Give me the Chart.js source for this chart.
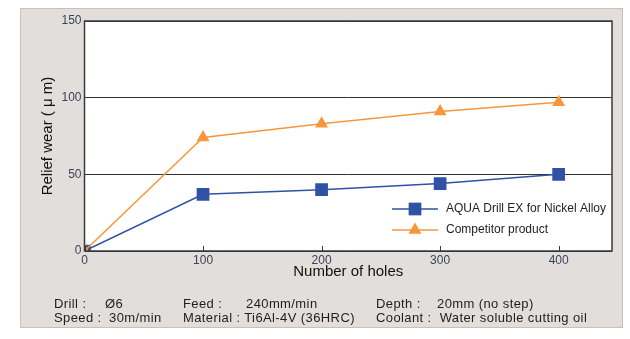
<!DOCTYPE html>
<html>
<head>
<meta charset="utf-8">
<script src="https://cdn.jsdelivr.net/npm/chart.js@4/dist/chart.umd.min.js"></script>
<style>
  body { margin: 0; background: #fff; font-family: "Liberation Sans", Arial, sans-serif; }
  #panel { position: absolute; left: 20px; top: 8px; width: 601px; height: 318px;
           background: #e2dedb; border: 1px solid #c6c1bd; }
  #wrap { position: absolute; left: 0; top: 0; width: 630px; height: 339px; }
  .info { position: absolute; font-size: 13px; letter-spacing: 0.4px; color: #1e1e1e; white-space: pre; }
</style>
</head>
<body>
<div id="panel"></div>
<div id="wrap"><canvas id="wearChart"></canvas></div>
<div class="info" style="left:54px;top:296px">Drill :</div>
<div class="info" style="left:105px;top:296px">Ø6</div>
<div class="info" style="left:183px;top:296px">Feed :</div>
<div class="info" style="left:246px;top:296px">240mm/min</div>
<div class="info" style="left:376px;top:296px">Depth :</div>
<div class="info" style="left:437px;top:296px">20mm (no step)</div>
<div class="info" style="left:54px;top:310px">Speed :</div>
<div class="info" style="left:109px;top:310px">30m/min</div>
<div class="info" style="left:183px;top:310px">Material : Ti6Al-4V (36HRC)</div>
<div class="info" style="left:376px;top:310px">Coolant :  Water soluble cutting oil</div>
<script>
// relief wear vs. number of holes
const holes = [0, 100, 200, 300, 400];
const aquaWear = [0, 37, 40, 44, 50];
const competitorWear = [0, 74, 83, 91, 97];
const seriesNames = ['AQUA Drill EX for Nickel Alloy', 'Competitor product'];
const xTicks = [0, 100, 200, 300, 400];
const yTicks = [0, 50, 100, 150];

const BLUE = '#2f52a5';
const ORANGE = '#f7973c';
const FONT = '"Liberation Sans", Arial, sans-serif';

const toPoints = vals => holes.map((h, i) => ({ x: h, y: vals[i] }));

// white plot background, frame, inward x ticks and the boxed-in legend
const framePlugin = {
  id: 'frame',
  beforeDraw(chart) {
    const a = chart.chartArea, ctx = chart.ctx;
    ctx.save();
    ctx.fillStyle = '#fff';
    ctx.fillRect(a.left, a.top, a.right - a.left, a.bottom - a.top);
    ctx.restore();
  },
  afterDatasetsDraw(chart) {
    const a = chart.chartArea, ctx = chart.ctx;
    const xs = chart.scales.x;
    ctx.save();
    ctx.strokeStyle = '#3a3a3a';
    ctx.lineWidth = 1.5;
    ctx.strokeRect(a.left, a.top, a.right - a.left, a.bottom - a.top);
    ctx.lineWidth = 1;
    xTicks.forEach(v => {
      const px = Math.round(xs.getPixelForValue(v)) + 0.5;
      ctx.beginPath();
      ctx.moveTo(px, a.bottom);
      ctx.lineTo(px, a.bottom - 5);
      ctx.stroke();
    });

    // legend
    chart.data.datasets.forEach((ds, i) => {
      const y = a.bottom - 42 + i * 21;
      const x1 = a.right - 220, x2 = a.right - 174;
      ctx.strokeStyle = ds.borderColor;
      ctx.lineWidth = 1.5;
      ctx.beginPath();
      ctx.moveTo(x1, y);
      ctx.lineTo(x2, y);
      ctx.stroke();
      ctx.fillStyle = ds.pointBackgroundColor;
      Chart.helpers.drawPoint(ctx, { pointStyle: ds.pointStyle, radius: ds.pointRadius, borderWidth: 0, rotation: 0 }, (x1 + x2) / 2, y);
      ctx.fillStyle = '#1e1e1e';
      ctx.font = '12px ' + FONT;
      ctx.textBaseline = 'middle';
      ctx.fillText(ds.label, a.right - 166, y);
    });
    ctx.restore();
  }
};

new Chart(document.getElementById('wearChart'), {
  type: 'line',
  data: {
    datasets: [
      {
        label: seriesNames[0],
        data: toPoints(aquaWear),
        borderColor: BLUE,
        backgroundColor: BLUE,
        pointBackgroundColor: BLUE,
        pointBorderWidth: 0,
        borderWidth: 1.5,
        pointStyle: 'rect',
        pointRadius: 9,
        order: 1
      },
      {
        label: seriesNames[1],
        data: toPoints(competitorWear),
        borderColor: ORANGE,
        backgroundColor: ORANGE,
        pointBackgroundColor: ORANGE,
        pointBorderWidth: 0,
        borderWidth: 1.5,
        pointStyle: 'triangle',
        pointRadius: 7.5,
        order: 0
      }
    ]
  },
  options: {
    responsive: true,
    maintainAspectRatio: false,
    animation: false,
    layout: { padding: { top: 21, right: 18, left: 39, bottom: 58 } },
    plugins: { legend: { display: false }, tooltip: { enabled: false } },
    scales: {
      x: {
        type: 'linear',
        min: 0,
        max: 445,
        afterBuildTicks: s => { s.ticks = xTicks.map(v => ({ value: v })); },
        afterFit: s => { s.height = 30; },
        grid: { display: false, drawTicks: false },
        border: { display: false },
        ticks: { color: '#3b4457', font: { family: FONT, size: 12 }, padding: 2 },
        title: { display: true, text: 'Number of holes', color: '#111', padding: 0,
                 font: { family: FONT, size: 15 } }
      },
      y: {
        min: 0,
        max: 150,
        afterBuildTicks: s => { s.ticks = yTicks.map(v => ({ value: v })); },
        afterFit: s => { s.width = 45.5; },
        grid: { color: '#333', lineWidth: 1, drawTicks: false },
        border: { display: false },
        ticks: { color: '#3b4457', font: { family: FONT, size: 12 }, padding: 3 },
        title: { display: true, text: 'Relief wear ( μ m)', color: '#111', padding: 0,
                 font: { family: FONT, size: 15 } }
      }
    }
  },
  plugins: [framePlugin]
});
</script>
</body>
</html>
